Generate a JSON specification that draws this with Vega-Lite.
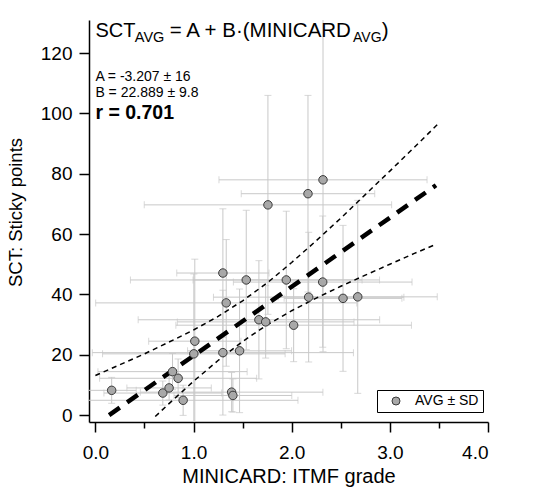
{
  "$schema": "https://vega.github.io/schema/vega-lite/v6.json",
  "width": 399,
  "height": 402,
  "autosize": {"type": "none"},
  "padding": {"left": 89, "top": 20, "right": 45, "bottom": 69},
  "background": "white",
  "config": {
    "font": "Liberation Sans",
    "view": {"stroke": null},
    "axis": {"domainColor": "#000", "domainWidth": 1.5, "tickColor": "#000", "tickWidth": 1.5, "tickSize": 10, "labelFontSize": 19, "labelColor": "#000", "titleFontSize": 20, "titleFontWeight": "normal", "titleColor": "#000", "grid": false, "labelFont": "Liberation Sans", "titleFont": "Liberation Sans"}
  },
  "datasets": {
    "pts": [
      {"x": 0.166, "y": 8.2, "xlo": -0.084, "xhi": 0.416, "ylo": 3.9, "yhi": 12.5},
      {"x": 0.687, "y": 7.3, "xlo": 0.087, "xhi": 1.287, "ylo": 3.3, "yhi": 11.3},
      {"x": 0.751, "y": 9.0, "xlo": 0.321, "xhi": 1.181, "ylo": 5.0, "yhi": 13.0},
      {"x": 0.786, "y": 14.4, "xlo": 0.026, "xhi": 1.546, "ylo": 8.4, "yhi": 20.4},
      {"x": 0.843, "y": 12.2, "xlo": 0.043, "xhi": 1.643, "ylo": 5.8, "yhi": 18.6},
      {"x": 0.894, "y": 4.9, "xlo": -0.276, "xhi": 2.064, "ylo": -0.1, "yhi": 9.9},
      {"x": 1.003, "y": 20.3, "xlo": 0.073, "xhi": 1.933, "ylo": -6.2, "yhi": 46.8},
      {"x": 1.013, "y": 24.5, "xlo": 0.543, "xhi": 1.483, "ylo": -2.7, "yhi": 51.7},
      {"x": 1.299, "y": 47.1, "xlo": 0.829, "xhi": 1.769, "ylo": 25.8, "yhi": 68.4},
      {"x": 1.333, "y": 37.2, "xlo": 0.003, "xhi": 2.663, "ylo": 16.2, "yhi": 58.2},
      {"x": 1.299, "y": 20.7, "xlo": -0.031, "xhi": 2.629, "ylo": 0.0, "yhi": 41.4},
      {"x": 1.469, "y": 21.3, "xlo": 0.939, "xhi": 1.999, "ylo": 0.8, "yhi": 41.8},
      {"x": 1.388, "y": 7.6, "xlo": 0.458, "xhi": 2.318, "ylo": 1.1, "yhi": 14.1},
      {"x": 1.401, "y": 6.5, "xlo": 0.801, "xhi": 2.001, "ylo": 1.0, "yhi": 12.0},
      {"x": 1.537, "y": 44.8, "xlo": 0.357, "xhi": 2.717, "ylo": 21.7, "yhi": 67.9},
      {"x": 1.758, "y": 69.7, "xlo": 0.498, "xhi": 3.018, "ylo": 33.4, "yhi": 106.0},
      {"x": 1.666, "y": 31.6, "xlo": 0.436, "xhi": 2.896, "ylo": 12.0, "yhi": 51.2},
      {"x": 1.735, "y": 30.9, "xlo": 0.835, "xhi": 2.635, "ylo": 18.9, "yhi": 42.9},
      {"x": 1.945, "y": 44.8, "xlo": 0.995, "xhi": 2.895, "ylo": 22.0, "yhi": 67.6},
      {"x": 2.02, "y": 29.8, "xlo": 0.82, "xhi": 3.22, "ylo": 17.7, "yhi": 41.9},
      {"x": 2.166, "y": 73.4, "xlo": 1.486, "xhi": 2.846, "ylo": 40.8, "yhi": 106.0},
      {"x": 2.173, "y": 39.1, "xlo": 1.203, "xhi": 3.143, "ylo": 17.6, "yhi": 60.6},
      {"x": 2.319, "y": 78.0, "xlo": 1.259, "xhi": 3.379, "ylo": 21.0, "yhi": 135.0},
      {"x": 2.316, "y": 44.1, "xlo": 1.406, "xhi": 3.226, "ylo": 22.5, "yhi": 66.0},
      {"x": 2.523, "y": 38.7, "xlo": 1.923, "xhi": 3.123, "ylo": 14.5, "yhi": 62.9},
      {"x": 2.673, "y": 39.2, "xlo": 1.863, "xhi": 3.483, "ylo": 7.2, "yhi": 71.2}
    ],
    "fit": [{"x": 0.14, "y": 0.0}, {"x": 3.47, "y": 76.2}],
    "upper": [
      {"x": 0.0, "y": 13.1}, {"x": 0.25, "y": 16.7}, {"x": 0.5, "y": 20.3}, {"x": 0.75, "y": 24.2},
      {"x": 1.0, "y": 28.2}, {"x": 1.25, "y": 32.7}, {"x": 1.5, "y": 37.9}, {"x": 1.75, "y": 43.8},
      {"x": 2.0, "y": 50.6}, {"x": 2.25, "y": 57.8}, {"x": 2.5, "y": 65.3}, {"x": 2.75, "y": 73.1},
      {"x": 3.0, "y": 80.9}, {"x": 3.25, "y": 88.8}, {"x": 3.49, "y": 96.5}
    ],
    "lower": [
      {"x": 0.61, "y": -0.5}, {"x": 0.75, "y": 3.8}, {"x": 1.0, "y": 11.2}, {"x": 1.25, "y": 18.1},
      {"x": 1.5, "y": 24.4}, {"x": 1.75, "y": 29.9}, {"x": 2.0, "y": 34.6}, {"x": 2.25, "y": 38.8},
      {"x": 2.5, "y": 42.7}, {"x": 2.75, "y": 46.4}, {"x": 3.0, "y": 50.0}, {"x": 3.25, "y": 53.6},
      {"x": 3.47, "y": 56.6}
    ]
  },
  "layer": [
    {
      "data": {"name": "pts"},
      "mark": {"type": "rule", "clip": true, "color": "#c8c8c8", "strokeWidth": 1},
      "encoding": {
        "x": {"field": "xlo", "type": "quantitative", "scale": {"domain": [-0.065, 4.0], "nice": false, "zero": false},
          "axis": {"values": [0, 0.5, 1, 1.5, 2, 2.5, 3, 3.5, 4], "labelExpr": "datum.value % 1 === 0 ? format(datum.value, '.1f') : ''", "tickSize": {"condition": {"test": "datum.value % 1 !== 0", "value": 6}, "value": 10}, "labelPadding": 11, "title": "MINICARD: ITMF grade", "titlePadding": 4}},
        "x2": {"field": "xhi"},
        "y": {"field": "y", "type": "quantitative", "scale": {"domain": [-2.3, 131], "nice": false, "zero": false},
          "axis": {"values": [0, 20, 40, 60, 80, 100, 120], "labelPadding": 7, "title": "SCT: Sticky points", "titleFontSize": 18.5, "titlePadding": 15, "titleY": 192}}
      }
    },
    {
      "data": {"name": "pts"},
      "mark": {"type": "rule", "clip": true, "color": "#c8c8c8", "strokeWidth": 1},
      "encoding": {
        "x": {"field": "x", "type": "quantitative"},
        "y": {"field": "ylo", "type": "quantitative"},
        "y2": {"field": "yhi"}
      }
    },
    {
      "data": {"name": "pts"},
      "mark": {"type": "tick", "clip": true, "color": "#c8c8c8", "orient": "vertical", "size": 7, "thickness": 1},
      "encoding": {"x": {"field": "xlo", "type": "quantitative"}, "y": {"field": "y", "type": "quantitative"}}
    },
    {
      "data": {"name": "pts"},
      "mark": {"type": "tick", "clip": true, "color": "#c8c8c8", "orient": "vertical", "size": 7, "thickness": 1},
      "encoding": {"x": {"field": "xhi", "type": "quantitative"}, "y": {"field": "y", "type": "quantitative"}}
    },
    {
      "data": {"name": "pts"},
      "mark": {"type": "tick", "clip": true, "color": "#c8c8c8", "orient": "horizontal", "size": 7, "thickness": 1},
      "encoding": {"x": {"field": "x", "type": "quantitative"}, "y": {"field": "ylo", "type": "quantitative"}}
    },
    {
      "data": {"name": "pts"},
      "mark": {"type": "tick", "clip": true, "color": "#c8c8c8", "orient": "horizontal", "size": 7, "thickness": 1},
      "encoding": {"x": {"field": "x", "type": "quantitative"}, "y": {"field": "yhi", "type": "quantitative"}}
    },
    {
      "data": {"name": "upper"},
      "mark": {"type": "line", "color": "#000", "strokeWidth": 1.5, "strokeDash": [5, 4], "clip": true},
      "encoding": {"x": {"field": "x", "type": "quantitative"}, "y": {"field": "y", "type": "quantitative"}}
    },
    {
      "data": {"name": "lower"},
      "mark": {"type": "line", "color": "#000", "strokeWidth": 1.5, "strokeDash": [5, 4], "clip": true},
      "encoding": {"x": {"field": "x", "type": "quantitative"}, "y": {"field": "y", "type": "quantitative"}}
    },
    {
      "data": {"name": "fit"},
      "mark": {"type": "line", "color": "#000", "strokeWidth": 4.5, "strokeDash": [13, 9], "clip": true},
      "encoding": {"x": {"field": "x", "type": "quantitative"}, "y": {"field": "y", "type": "quantitative"}}
    },
    {
      "data": {"name": "pts"},
      "mark": {"type": "point", "shape": "circle", "filled": true, "size": 72, "stroke": "#3a3a3a", "strokeWidth": 1, "opacity": 1},
      "encoding": {
        "x": {"field": "x", "type": "quantitative"},
        "y": {"field": "y", "type": "quantitative"},
        "fill": {"datum": "AVG ± SD", "type": "nominal", "scale": {"range": ["#a8a8a8"]},
          "legend": {"title": null, "orient": "none", "legendX": 288, "legendY": 370, "strokeColor": "#000", "fillColor": "#fff", "padding": 4, "symbolType": "circle", "symbolSize": 64, "symbolStrokeColor": "#3a3a3a", "symbolStrokeWidth": 1, "symbolOffset": 8, "labelOffset": 12, "labelFontSize": 14, "labelColor": "#000", "labelFont": "Liberation Sans"}}
      }
    },
    {
      "data": {"values": [{}]},
      "mark": {"type": "text", "align": "left", "baseline": "alphabetic", "fontSize": 20, "color": "#000"},
      "encoding": {"x": {"datum": 0.0}, "y": {"datum": 125.5}, "text": {"value": "SCT"}}
    },
    {
      "data": {"values": [{}]},
      "mark": {"type": "text", "align": "left", "baseline": "alphabetic", "fontSize": 14.5, "color": "#000"},
      "encoding": {"x": {"datum": 0.402}, "y": {"datum": 123.8}, "text": {"value": "AVG"}}
    },
    {
      "data": {"values": [{}]},
      "mark": {"type": "text", "align": "left", "baseline": "alphabetic", "fontSize": 20.5, "color": "#000"},
      "encoding": {"x": {"datum": 0.758}, "y": {"datum": 125.5}, "text": {"value": "= A + B·(MINICARD"}}
    },
    {
      "data": {"values": [{}]},
      "mark": {"type": "text", "align": "left", "baseline": "alphabetic", "fontSize": 14, "color": "#000"},
      "encoding": {"x": {"datum": 2.625}, "y": {"datum": 123.8}, "text": {"value": "AVG"}}
    },
    {
      "data": {"values": [{}]},
      "mark": {"type": "text", "align": "left", "baseline": "alphabetic", "fontSize": 20.5, "color": "#000"},
      "encoding": {"x": {"datum": 2.918}, "y": {"datum": 125.5}, "text": {"value": ")"}}
    },
    {
      "data": {"values": [{}]},
      "mark": {"type": "text", "align": "left", "baseline": "alphabetic", "fontSize": 14, "color": "#000"},
      "encoding": {"x": {"datum": 0.0}, "y": {"datum": 110.8}, "text": {"value": "A = -3.207 ± 16"}}
    },
    {
      "data": {"values": [{}]},
      "mark": {"type": "text", "align": "left", "baseline": "alphabetic", "fontSize": 14, "color": "#000"},
      "encoding": {"x": {"datum": 0.0}, "y": {"datum": 105.5}, "text": {"value": "B = 22.889 ± 9.8"}}
    },
    {
      "data": {"values": [{}]},
      "mark": {"type": "text", "align": "left", "baseline": "alphabetic", "fontSize": 19.5, "fontWeight": "bold", "color": "#000"},
      "encoding": {"x": {"datum": 0.0}, "y": {"datum": 98.3}, "text": {"value": "r = 0.701"}}
    }
  ]
}
